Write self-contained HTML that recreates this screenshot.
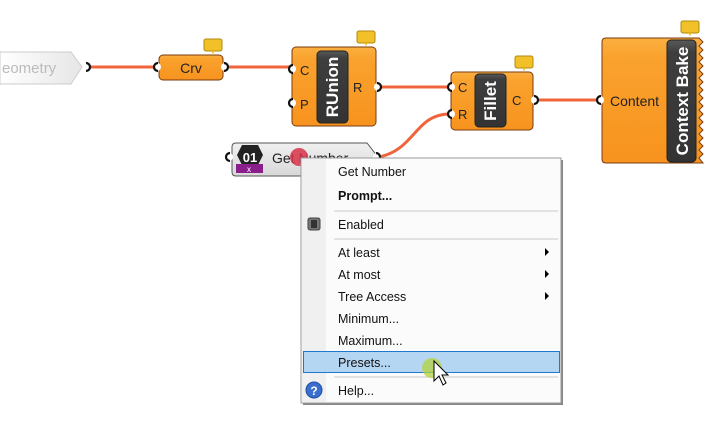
<!DOCTYPE html>
<html><head><meta charset="utf-8"><style>
html,body{margin:0;padding:0;background:#fff;width:713px;height:445px;overflow:hidden}
svg{display:block}
text{font-family:"Liberation Sans","DejaVu Sans",sans-serif}
</style></head><body>
<svg width="713" height="445" viewBox="0 0 713 445" xmlns="http://www.w3.org/2000/svg">
<defs>
<linearGradient id="og" x1="0" y1="0" x2="0" y2="1">
<stop offset="0" stop-color="#fbb040"/><stop offset="0.15" stop-color="#faa22e"/><stop offset="1" stop-color="#f7931e"/></linearGradient>
<linearGradient id="dg" x1="0" y1="0" x2="0" y2="1">
<stop offset="0" stop-color="#5a5a5a"/><stop offset="0.1" stop-color="#3e3e3e"/><stop offset="1" stop-color="#333"/></linearGradient>
<linearGradient id="geo" x1="0" y1="0" x2="1" y2="0">
<stop offset="0" stop-color="#fff"/><stop offset="1" stop-color="#e6e6e6"/></linearGradient>
<linearGradient id="gn" x1="0" y1="0" x2="0" y2="1">
<stop offset="0" stop-color="#f0f0f0"/><stop offset="1" stop-color="#d8d8d8"/></linearGradient>
<g id="bal"><rect x="0" y="0" width="18" height="12" rx="2" fill="#f2c029" stroke="#b08a10" stroke-width="1"/><path d="M7 12 L9 15 L11 12Z" fill="#f2c029"/></g>
<g id="pl"><circle r="4" fill="#fff"/><path d="M1 -4 A4 4 0 0 0 1 4" fill="none" stroke="#111" stroke-width="2.2"/></g>
<g id="pr"><circle r="4" fill="#fff"/><path d="M-1 -4 A4 4 0 0 1 -1 4" fill="none" stroke="#111" stroke-width="2.2"/></g>
</defs>

<g stroke="#f0643c" stroke-width="3" fill="none">
<line x1="90" y1="67" x2="156" y2="67"/>
<line x1="226" y1="67" x2="291" y2="67"/>
<line x1="380" y1="87" x2="450" y2="87"/>
<line x1="537" y1="100" x2="600" y2="100"/>
<path d="M379 157 C415 150 415 114 450 114"/>
</g>

<path d="M0 52 L71 52 L82 67 L71 84 L0 84Z" fill="url(#geo)" stroke="#ccc"/>
<text x="2" y="73" font-size="15" fill="#bbb">eometry</text>
<use href="#pr" x="87" y="67"/>

<rect x="159" y="55" width="64" height="25" rx="4" fill="url(#og)" stroke="#7a3d12"/>
<text x="191" y="73" font-size="14" text-anchor="middle" fill="#222">Crv</text>
<use href="#pl" x="157" y="67"/>
<use href="#pr" x="225" y="67"/>
<use href="#bal" x="204" y="39"/>

<rect x="292" y="47" width="84" height="79" rx="4" fill="url(#og)" stroke="#7a3d12"/>
<rect x="317" y="51" width="31" height="72" rx="4" fill="url(#dg)" stroke="#222"/>
<text transform="translate(338,87) rotate(-90)" font-size="17" font-weight="bold" text-anchor="middle" fill="#fff">RUnion</text>
<text x="300" y="75" font-size="13" fill="#222">C</text>
<text x="300" y="109" font-size="13" fill="#222">P</text>
<text x="353" y="92" font-size="13" fill="#222">R</text>
<use href="#pl" x="292" y="69"/>
<use href="#pl" x="292" y="103"/>
<use href="#pr" x="378" y="87"/>
<use href="#bal" x="357" y="31"/>

<rect x="451" y="72" width="82" height="58" rx="4" fill="url(#og)" stroke="#7a3d12"/>
<rect x="475" y="74" width="31" height="53" rx="4" fill="url(#dg)" stroke="#222"/>
<text transform="translate(496,101) rotate(-90)" font-size="17" font-weight="bold" text-anchor="middle" fill="#fff">Fillet</text>
<text x="458" y="92" font-size="13" fill="#222">C</text>
<text x="458" y="119" font-size="13" fill="#222">R</text>
<text x="512" y="105" font-size="13" fill="#222">C</text>
<use href="#pl" x="451" y="87"/>
<use href="#pl" x="451" y="114"/>
<use href="#pr" x="535" y="100"/>
<use href="#bal" x="515" y="56"/>

<path d="M606 38 L699 38 L703 42 L699 46 L703 50 L699 54 L703 58 L699 62 L703 66 L699 70 L703 74 L699 78 L703 82 L699 86 L703 90 L699 94 L703 98 L699 102 L703 106 L699 110 L703 114 L699 118 L703 122 L699 126 L703 130 L699 134 L703 138 L699 142 L703 146 L699 150 L703 154 L699 158 L703 163 L606 163 Q602 163 602 159 L602 42 Q602 38 606 38Z" fill="url(#og)" stroke="#7a3d12"/>
<rect x="667" y="40" width="29" height="122" rx="4" fill="url(#dg)" stroke="#222"/>
<text transform="translate(688,101) rotate(-90)" font-size="17" font-weight="bold" text-anchor="middle" fill="#fff">Context Bake</text>
<text x="610" y="106" font-size="14" fill="#222">Content</text>
<use href="#pl" x="600" y="100"/>
<use href="#bal" x="681" y="21"/>

<path d="M236 143 L367 143 L378 157 L367 176 L236 176 Q232 176 232 172 L232 147 Q232 143 236 143Z" fill="url(#gn)" stroke="#555"/>
<path d="M242 145 L258 145 L263 155 L258 165 L242 165 L237 155Z" fill="#222"/>
<text x="250" y="162" font-size="13" font-weight="bold" text-anchor="middle" fill="#fff">01</text>
<rect x="236" y="164" width="27" height="9" fill="#8a1e8a"/>
<text x="249" y="172" font-size="8" text-anchor="middle" fill="#fff">x</text>
<text x="272" y="163" font-size="14" fill="#222">Get Number</text>
<circle cx="299" cy="157" r="9" fill="#d8324a" opacity="0.85"/>
<use href="#pl" x="229" y="157"/>
<use href="#pr" x="377" y="157"/>

<rect x="303" y="160" width="260" height="245" fill="#888"/>
<rect x="301" y="158" width="260" height="245" fill="#fbfbfb" stroke="#999"/>
<rect x="302" y="159" width="24" height="243" fill="#f0f0f0"/>
<g stroke="#c8c8c8"><line x1="334" y1="211" x2="558" y2="211"/><line x1="334" y1="239" x2="558" y2="239"/><line x1="334" y1="377" x2="558" y2="377"/></g>
<rect x="303.5" y="351.5" width="256" height="21" fill="#b5d6f2" stroke="#1e78d0"/>
<g font-size="12.5" fill="#111">
<text x="338" y="176">Get Number</text>
<text x="338" y="200" font-weight="bold">Prompt...</text>
<text x="338" y="229">Enabled</text>
<text x="338" y="257">At least</text>
<text x="338" y="279">At most</text>
<text x="338" y="301">Tree Access</text>
<text x="338" y="323">Minimum...</text>
<text x="338" y="345">Maximum...</text>
<text x="338" y="367">Presets...</text>
<text x="338" y="395">Help...</text>
</g>
<g fill="#000"><path d="M545 248 L549 252 L545 256Z"/><path d="M545 270 L549 274 L545 278Z"/><path d="M545 292 L549 296 L545 300Z"/></g>
<rect x="308" y="218" width="12" height="12" rx="2" fill="#777" stroke="#444"/><rect x="311" y="220" width="6" height="8" fill="#333"/>
<circle cx="314" cy="390" r="8" fill="#3a6fd0" stroke="#1f4da0"/>
<text x="314" y="395" font-size="12" font-weight="bold" text-anchor="middle" fill="#fff">?</text>
<circle cx="432" cy="368" r="10" fill="#b4d23c" opacity="0.75"/>
<path d="M434 361 L434 381 L439 376 L443 385 L446 383 L442 375 L448 375Z" fill="#fff" stroke="#000" stroke-width="1"/>
</svg>
</body></html>
